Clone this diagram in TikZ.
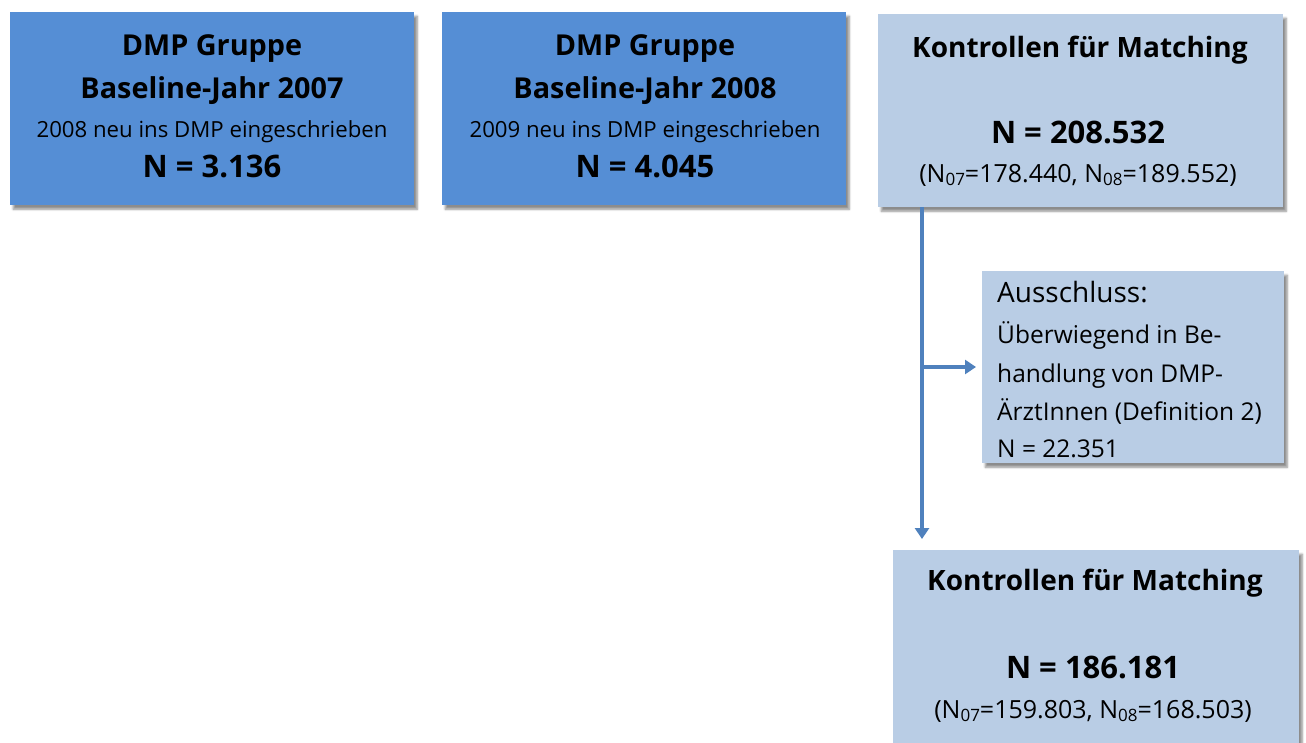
\documentclass[tikz,border=0pt]{standalone}
\usepackage{fontspec}
\setmainfont{Open Sans}
\usetikzlibrary{shadows.blur,arrows.meta}
\definecolor{dmpblue}{RGB}{85,142,213}
\definecolor{ctrlblue}{RGB}{185,205,229}
\definecolor{linkblue}{RGB}{79,129,189}
\newcommand{\sub}[1]{\raisebox{-0.12em}{\fontsize{17}{17}\selectfont #1}}
\tikzset{
  box/.style={draw=none, minimum width=#1, anchor=north west, inner sep=0pt,
    blur shadow={shadow xshift=3pt, shadow yshift=-4pt, shadow blur steps=6, shadow opacity=45}},
  dmpbox/.style={box=404pt, fill=dmpblue, minimum height=193pt},
  ctrlbox/.style={box=#1, fill=ctrlblue},
  txt/.style={anchor=base, inner sep=0pt},
  big/.style={font=\fontsize{28.8}{32}\selectfont\bfseries},
  head/.style={font=\fontsize{28}{32}\selectfont\bfseries},
  num/.style={font=\fontsize{31}{34}\selectfont\bfseries},
  small/.style={font=\fontsize{22.2}{26}\selectfont},
  split/.style={font=\fontsize{25}{28}\selectfont},
  exl/.style={anchor=base west, inner sep=0pt, font=\fontsize{24.5}{28}\selectfont},
  link/.style={draw=linkblue, line width=3.5pt, -{Triangle[length=11pt,width=14pt]}}
}
\begin{document}
\begin{tikzpicture}[x=1pt,y=-1pt]
\useasboundingbox (0,0) rectangle (1306,742);

% DMP groups
\node[dmpbox] (g07) at (10,12) {};
\node[txt,big] at (212,55) {DMP Gruppe};
\node[txt,big] at (212,98) {Baseline-Jahr 2007};
\node[txt,small] at (212,137) {2008 neu ins DMP eingeschrieben};
\node[txt,num] at (212,177) {N = 3.136};

\node[dmpbox] (g08) at (442,12) {};
\node[txt,big] at (645,55) {DMP Gruppe};
\node[txt,big] at (645,98) {Baseline-Jahr 2008};
\node[txt,small] at (645,137) {2009 neu ins DMP eingeschrieben};
\node[txt,num] at (645,177) {N = 4.045};

% control pool before exclusion
\node[ctrlbox=405pt, minimum height=193pt] (k1) at (878,14) {};
\node[txt,head] at (1080,57) {Kontrollen für Matching};
\node[txt,num] at (1078,143) {N = 208.532};
\node[txt,split] at (1078,182) {(N\sub{07}=178.440, N\sub{08}=189.552)};

% exclusion
\node[ctrlbox=302pt, minimum height=192pt] (ex) at (982,271) {};
\node[exl, font=\fontsize{28}{32}\selectfont] at (997,302) {Ausschluss:};
\node[exl] at (997,343) {Überwiegend in Be-};
\node[exl] at (997,382) {handlung von DMP-};
\node[exl] at (997,420) {ÄrztInnen (Definition 2)};
\node[exl] at (997,457) {N = 22.351};

% control pool after exclusion
\node[ctrlbox=406pt, minimum height=200pt] (k2) at (893,550) {};
\node[txt,head] at (1095,590) {Kontrollen für Matching};
\node[txt,num] at (1093,678) {N = 186.181};
\node[txt,split] at (1093,718) {(N\sub{07}=159.803, N\sub{08}=168.503)};

% connectors
\coordinate (split) at (922,367);
\draw[link] (k1.south west -| split) -- (k2.north west -| split) [shorten >=11pt];
\draw[link, shorten >=6pt] (split) -- (split -| ex.west);
\end{tikzpicture}
\end{document}
